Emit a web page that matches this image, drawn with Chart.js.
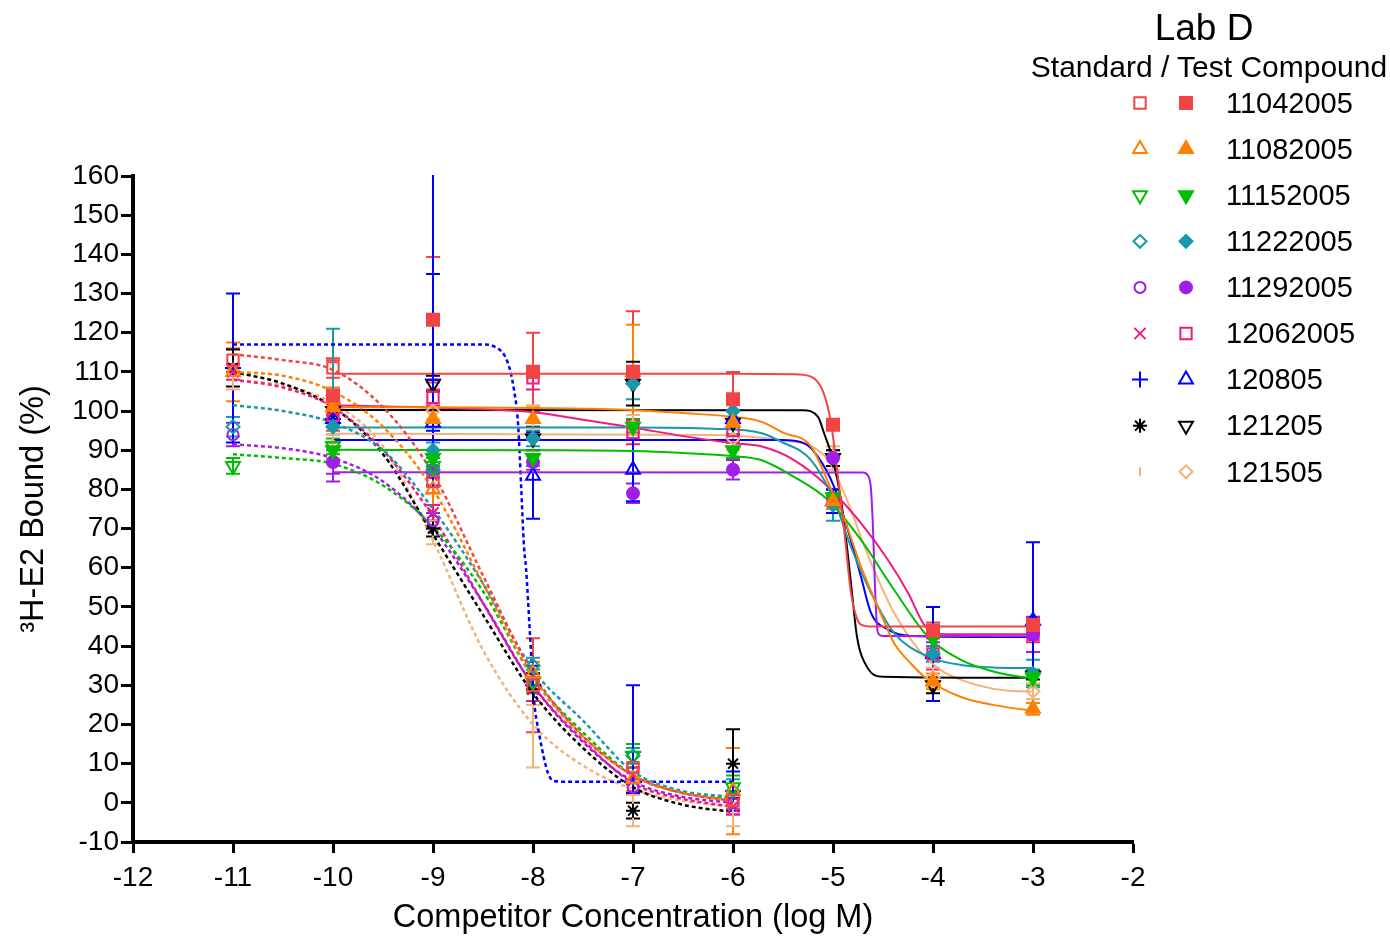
<!DOCTYPE html>
<html><head><meta charset="utf-8">
<script src="https://cdn.jsdelivr.net/npm/chart.js@4.4.1/dist/chart.umd.min.js"></script>
<style>
html,body{margin:0;padding:0;background:#fff;}
#wrap{position:relative;width:1390px;height:940px;font-family:"Liberation Sans",Arial,sans-serif;overflow:hidden;}
#c{position:absolute;left:0;top:0;}
.lg{position:absolute;color:#000;white-space:nowrap;line-height:1;}
</style></head><body>
<div id="wrap"><canvas id="c" width="1390" height="940"></canvas><div id="legend"></div></div>
<script>
// ---------- categories / ticks ----------
const LABS = ['11042005','11082005','11152005','11222005','11292005','12062005','120805','121205','121505'];
const STD_X = [-11,-10,-9,-8,-7,-6];          // log M, standard
const TC_X  = [-10,-9,-8,-7,-6,-5,-4,-3];     // log M, test compound
const X_TICKS = [-12,-11,-10,-9,-8,-7,-6,-5,-4,-3,-2];
const Y_TICKS = [-10,0,10,20,30,40,50,60,70,80,90,100,110,120,130,140,150,160];
const STD_FIT_X = [-11,-10.5,-10,-9.5,-9,-8.5,-8,-7.5,-7,-6.5,-6];

// ---------- 11042005 ----------
const lab11042005_std    = [113,111,82,30,9,0.5];
const lab11042005_stdErr = [3,2.5,3,12,6,2];
const lab11042005_tc     = [104,123.3,110,110,103,96.5,44,45.4];
const lab11042005_tcErr  = [9,16,10,15.5,7,1,2,2];
const lab11042005_stdFitY = [114.5,113,110.5,101,84,58,33,17,7,2.5,0.5];
const lab11042005_tcFitX = [-10,-6,-5.4,-5.22,-5.1,-5.02,-4.95,-4.89,-4.82,-4.76,-4.72,-4.6,-3];
const lab11042005_tcFitY = [109.5,109.5,109.4,108.8,105,97,83,70,53.6,47,45.5,45,45];

// ---------- 11082005 ----------
const lab11082005_std    = [110,103,80,33,6,3];
const lab11082005_stdErr = [7.5,3,4,3,3,11];
const lab11082005_tc     = [101,98,98,110,97,77,31,24];
const lab11082005_tcErr  = [2,2,3,12,3,2,2,1.5];
const lab11082005_stdFitY = [110,109,105,96,80,56,32,17,7,2.5,0.5];
const lab11082005_tcFitX = [-10,-9,-8,-7,-6.5,-6,-5.72,-5.5,-5.22,-5,-4.92,-4.72,-4.5,-4.39,-4.2,-4.05,-3.72,-3.4,-3.05,-3];
const lab11082005_tcFitY = [101,101,100.8,100.3,99.5,98.5,97.3,94.5,91,79,74.8,60.3,47,40.8,35,31.4,27,25,23.7,23.6];

// ---------- 11152005 ----------
const lab11152005_std    = [86,91,86,31,12,4];
const lab11152005_stdErr = [2,2,2,3,3,3];
const lab11152005_tc     = [90,88,88,96,90,78,42,32];
const lab11152005_tcErr  = [2,2,2,2,2,2,2,2];
const lab11152005_stdFitY = [89,88,86.5,81,70.5,54,32,18,7,2.5,1];
const lab11152005_tcFitX = [-10,-8,-7,-6.5,-6,-5.72,-5.39,-5.05,-4.72,-4.39,-4.05,-3.72,-3.38,-3.05,-3];
const lab11152005_tcFitY = [90.1,90,89.8,89.3,88.5,87.5,83.2,77.3,67.1,54.4,42.4,36.5,33.4,31.9,31.8];

// ---------- 11222005 ----------
const lab11222005_std    = [96,104,85,35,12,3];
const lab11222005_stdErr = [2.5,17,2,2,2,3];
const lab11222005_tc     = [96,90,93,107,100,76,38,33];
const lab11222005_tcErr  = [2,2,2,4,4,4,2,3.5];
const lab11222005_stdFitY = [101.5,100,97,90,75,56,34,21,8,3,1.5];
const lab11222005_tcFitX = [-10,-7,-6.2,-5.72,-5.52,-5.22,-4.99,-4.82,-4.62,-4.39,-4.05,-3.72,-3.05,-3];
const lab11222005_tcFitY = [95.8,95.8,95.5,94.4,92.2,87.5,77.3,65.3,53.6,43.4,37.3,35.2,34.4,34.4];

// ---------- 11292005 ----------
const lab11292005_std    = [94,87,72,31,4,0];
const lab11292005_stdErr = [3,5,2,2,2,3];
const lab11292005_tc     = [87,85,87,79,85,88,43,43];
const lab11292005_tcErr  = [3,2,2,2.5,2.5,2,2,4.5];
const lab11292005_stdFitY = [91.5,90.5,88,82,70,51,30,15.5,5.5,1.5,0];
const lab11292005_tcFitX = [-10,-4.7,-4.65,-4.62,-4.6,-4.58,-4.56,-4.54,-4.5,-3];
const lab11292005_tcFitY = [84.4,84.3,83.5,80,70,55,45,43,42.6,42.5];

// ---------- 12062005 ----------
const lab12062005_std    = [110,100,74,29,7,-1];
const lab12062005_stdErr = [2,2,2,3,2,2];
const lab12062005_tc     = [99,103.5,108.5,94.5,95,77,38,43];
const lab12062005_tcErr  = [3,2,3,3,3,3,4,2];
const lab12062005_stdFitY = [108,106,101,90,73,51,30,16,5,1,-1];
const lab12062005_tcFitX = [-10,-9,-8,-7.5,-7,-6.5,-6,-5.72,-5.39,-5.05,-4.72,-4.45,-4.25,-4.09,-4,-3.8,-3];
const lab12062005_tcFitY = [101.5,100.9,99.7,97.8,95.8,93.6,91.8,91,87.5,80.7,71.4,62,53.6,45.5,43.5,43,43];

// ---------- 120805 ----------
const lab120805_std    = [111,98,108,30,13,3];
const lab120805_stdErr = [19,2,27,5,[10.5,17],5];
const lab120805_tc     = [98,97,83.5,85,98,77,38,46.5];
const lab120805_tcErr  = [2,[2,78],11,8,2,3,12,20];
const lab120805_stdFitX = [-11,-8.5,-8.39,-8.25,-8.19,-8.15,-8.12,-8.09,-8.07,-8.03,-7.99,-7.94,-7.85,-7.79,-7.7,-6];
const lab120805_stdFitY = [117,117,116.5,112.2,105.4,96.9,81.6,65.4,60,43,26.3,17.8,7.6,5.6,5.4,5.4];
const lab120805_tcFitX = [-10,-5.52,-5.29,-5.15,-4.99,-4.86,-4.72,-4.62,-4.45,-4.22,-3];
const lab120805_tcFitY = [92.6,92.6,91.8,88.3,80.7,70.4,57.7,48.5,44.2,42.6,42.3];

// ---------- 121205 ----------
const lab121205_std    = [111,101,70,29,-2,10];
const lab121205_stdErr = [4.7,3,2,4,2,8.8];
const lab121205_tc     = [100,107,93,107,97,88,30,32.5];
const lab121205_tcErr  = [2,2,3,5.6,3,2,2,1];
const lab121205_stdFitY = [110,107,101,89,68.5,48,28,14,4,-0.5,-2.3];
const lab121205_tcFitX = [-10,-5.3,-5.15,-5.09,-5.0,-4.92,-4.86,-4.81,-4.76,-4.66,-4.5,-3];
const lab121205_tcFitY = [100.3,100.2,98.5,94.4,87.5,77.3,65.3,53.6,42.4,34.7,32.2,31.9];

// ---------- 121505 ----------
const lab121505_std    = [108,98,69,17,-2,-3];
const lab121505_stdErr = [2.5,4,3,8,4,3];
const lab121505_tc     = [91,100,93,96,93,88,32,28.5];
const lab121505_tcErr  = [3,2,8.5,3,3,3,2.5,2];
const lab121505_stdFitY = [108,106.5,102,91,67,39,20,9.5,3.5,0.5,-1];
const lab121505_tcFitX = [-10,-6.2,-5.72,-5.52,-5.22,-5.05,-4.86,-4.66,-4.39,-4.05,-3.72,-3.05,-3];
const lab121505_tcFitY = [94.2,93.9,93.2,92.6,91,87.5,77.3,63.8,48.5,36.5,31.4,28.4,28.4];

// ---------- styles ----------
const COLORS = ['#F24444','#FF8000','#00BE00','#1898AA','#A21EE8','#F01B7E','#0000FF','#000000','#F5B279'];
const STD_STYLE = [
  {s:'rect',r:8,fill:false,rot:0},{s:'triangle',r:8,fill:false,rot:0},{s:'triangle',r:8,fill:false,rot:180},
  {s:'rectRot',r:6.5,fill:false,rot:0},{s:'circle',r:5.5,fill:false,rot:0},{s:'crossRot',r:8,fill:false,rot:0},
  {s:'cross',r:8,fill:false,rot:0},{s:'star',r:7,fill:false,rot:0},{s:'line',r:4.5,fill:false,rot:90}];
const TC_STYLE = [
  {s:'rect',r:8.5,fill:true,rot:0},{s:'triangle',r:8,fill:true,rot:0},{s:'triangle',r:8,fill:true,rot:180},
  {s:'rectRot',r:6.5,fill:true,rot:0},{s:'circle',r:6,fill:true,rot:0},{s:'rect',r:8,fill:false,rot:0},
  {s:'triangle',r:8,fill:false,rot:0},{s:'triangle',r:8,fill:false,rot:180},{s:'rectRot',r:6.5,fill:false,rot:0}];

const SERIES = [
  {std:lab11042005_std,stdErr:lab11042005_stdErr,tc:lab11042005_tc,tcErr:lab11042005_tcErr,sfx:STD_FIT_X,sfy:lab11042005_stdFitY,tfx:lab11042005_tcFitX,tfy:lab11042005_tcFitY},
  {std:lab11082005_std,stdErr:lab11082005_stdErr,tc:lab11082005_tc,tcErr:lab11082005_tcErr,sfx:STD_FIT_X,sfy:lab11082005_stdFitY,tfx:lab11082005_tcFitX,tfy:lab11082005_tcFitY},
  {std:lab11152005_std,stdErr:lab11152005_stdErr,tc:lab11152005_tc,tcErr:lab11152005_tcErr,sfx:STD_FIT_X,sfy:lab11152005_stdFitY,tfx:lab11152005_tcFitX,tfy:lab11152005_tcFitY},
  {std:lab11222005_std,stdErr:lab11222005_stdErr,tc:lab11222005_tc,tcErr:lab11222005_tcErr,sfx:STD_FIT_X,sfy:lab11222005_stdFitY,tfx:lab11222005_tcFitX,tfy:lab11222005_tcFitY},
  {std:lab11292005_std,stdErr:lab11292005_stdErr,tc:lab11292005_tc,tcErr:lab11292005_tcErr,sfx:STD_FIT_X,sfy:lab11292005_stdFitY,tfx:lab11292005_tcFitX,tfy:lab11292005_tcFitY},
  {std:lab12062005_std,stdErr:lab12062005_stdErr,tc:lab12062005_tc,tcErr:lab12062005_tcErr,sfx:STD_FIT_X,sfy:lab12062005_stdFitY,tfx:lab12062005_tcFitX,tfy:lab12062005_tcFitY},
  {std:lab120805_std,stdErr:lab120805_stdErr,tc:lab120805_tc,tcErr:lab120805_tcErr,sfx:lab120805_stdFitX,sfy:lab120805_stdFitY,tfx:lab120805_tcFitX,tfy:lab120805_tcFitY},
  {std:lab121205_std,stdErr:lab121205_stdErr,tc:lab121205_tc,tcErr:lab121205_tcErr,sfx:STD_FIT_X,sfy:lab121205_stdFitY,tfx:lab121205_tcFitX,tfy:lab121205_tcFitY},
  {std:lab121505_std,stdErr:lab121505_stdErr,tc:lab121505_tc,tcErr:lab121505_tcErr,sfx:STD_FIT_X,sfy:lab121505_stdFitY,tfx:lab121505_tcFitX,tfy:lab121505_tcFitY}
];

const pts = (xs, ys) => xs.map((x,i)=>({x:x, y:ys[i]}));
const markerSets = [], curveSets = [];
SERIES.forEach((s, i) => {
  const c = COLORS[i];
  [[STD_X, s.std, s.stdErr, STD_STYLE[i]], [TC_X, s.tc, s.tcErr, TC_STYLE[i]]].forEach(([xs, ys, errs, st]) => {
    markerSets.push({
      data: pts(xs, ys), errors: errs, showLine: false,
      borderColor: c, backgroundColor: st.fill ? c : 'rgba(0,0,0,0)',
      pointStyle: st.s, pointRadius: st.r, pointRotation: st.rot, pointBorderWidth: 2,
      pointBackgroundColor: st.fill ? c : 'rgba(0,0,0,0)', pointBorderColor: c
    });
  });
  curveSets.push({data: pts(s.sfx, s.sfy), showLine: true, pointRadius: 0, borderColor: c, borderWidth: 2.5,
    borderDash: [4,3], cubicInterpolationMode: 'monotone', fill: false});
  curveSets.push({data: pts(s.tfx, s.tfy), showLine: true, pointRadius: 0, borderColor: c, borderWidth: 2,
    cubicInterpolationMode: 'monotone', fill: false});
});

const errorBars = {
  id: 'errorBars',
  beforeDatasetsDraw(chart) {
    const {ctx, chartArea: a, scales: {x, y}} = chart;
    ctx.save();
    ctx.beginPath(); ctx.rect(a.left, a.top - 1, a.right - a.left, a.bottom - a.top + 2); ctx.clip();
    ctx.lineWidth = 2;
    chart.data.datasets.forEach(ds => {
      if (!ds.errors) return;
      ctx.strokeStyle = ds.borderColor;
      ds.data.forEach((p, j) => {
        const e = ds.errors[j];
        const dn = Array.isArray(e) ? e[0] : e, up = Array.isArray(e) ? e[1] : e;
        const px = x.getPixelForValue(p.x);
        const yt = y.getPixelForValue(p.y + up), yb = y.getPixelForValue(p.y - dn);
        ctx.beginPath();
        ctx.moveTo(px, yt); ctx.lineTo(px, yb);
        ctx.moveTo(px - 7, yt); ctx.lineTo(px + 7, yt);
        ctx.moveTo(px - 7, yb); ctx.lineTo(px + 7, yb);
        ctx.stroke();
      });
    });
    ctx.restore();
  }
};

const ROW_Y0 = 103, ROW_DY = 46.1, STD_SYM_X = 1140, TC_SYM_X = 1186;
const legendSymbols = {
  id: 'legendSymbols',
  afterDraw(chart) {
    const ctx = chart.ctx, H = Chart.helpers;
    if (!H || !H.drawPoint) return;
    LABS.forEach((lab, i) => {
      const yc = ROW_Y0 + ROW_DY * i;
      [[STD_STYLE[i], STD_SYM_X], [TC_STYLE[i], TC_SYM_X]].forEach(([st, xc]) => {
        ctx.save();
        ctx.strokeStyle = COLORS[i];
        ctx.fillStyle = st.fill ? COLORS[i] : 'rgba(0,0,0,0)';
        ctx.lineWidth = 2;
        H.drawPoint(ctx, {pointStyle: st.s, rotation: st.rot, radius: st.r, borderWidth: 2}, xc, yc);
        ctx.restore();
      });
    });
  }
};

Chart.defaults.font.family = '"Liberation Sans", Arial, sans-serif';
Chart.defaults.color = '#000';

new Chart(document.getElementById('c'), {
  type: 'scatter',
  data: { datasets: markerSets.concat(curveSets) },
  plugins: [errorBars, legendSymbols],
  options: {
    responsive: false, animation: false,
    layout: { padding: { left: 0, top: 176, right: 257, bottom: 0 } },
    plugins: { legend: { display: false }, tooltip: { enabled: false } },
    scales: {
      x: {
        type: 'linear', min: -12, max: -2,
        afterFit: s => { s.height = 98; },
        afterBuildTicks: s => { s.ticks = X_TICKS.map(v => ({value: v})); },
        ticks: { font: { size: 28 }, color: '#000', padding: 8, maxRotation: 0 },
        grid: { drawOnChartArea: false, drawTicks: true, tickLength: 11, tickWidth: 3, tickColor: '#000' },
        border: { display: true, width: 4, color: '#000' },
        title: { display: true, text: 'Competitor Concentration (log M)', font: { size: 32.5, lineHeight: 1.2 }, color: '#000', padding: { top: 0, bottom: 2 } }
      },
      y: {
        type: 'linear', min: -10, max: 160,
        afterFit: s => { s.width = 133; },
        afterBuildTicks: s => { s.ticks = Y_TICKS.map(v => ({value: v})); },
        ticks: { font: { size: 28 }, color: '#000', padding: 2 },
        grid: { drawOnChartArea: false, drawTicks: true, tickLength: 12, tickWidth: 3, tickColor: '#000' },
        border: { display: true, width: 4, color: '#000' },
        title: { display: true, text: '\u00B3H-E2 Bound (%)', font: { size: 32.5, lineHeight: 1.2 }, color: '#000', padding: { top: 15, bottom: 0 } }
      }
    }
  }
});

// ---------- legend text ----------
const lg = document.getElementById('legend');
function addText(txt, left, top, size, center) {
  const d = document.createElement('div');
  d.className = 'lg'; d.textContent = txt;
  d.style.left = left + 'px'; d.style.top = top + 'px'; d.style.fontSize = size + 'px';
  if (center) d.style.transform = 'translateX(-50%)';
  lg.appendChild(d);
}
addText('Lab D', 1204, 27 - 0.49 * 37, 37, true);
addText('Standard / Test Compound', 1209, 67 - 0.49 * 30, 30, true);
LABS.forEach((lab, i) => addText(lab, 1226, ROW_Y0 + ROW_DY * i - 0.49 * 29, 29, false));
</script>
</body></html>
